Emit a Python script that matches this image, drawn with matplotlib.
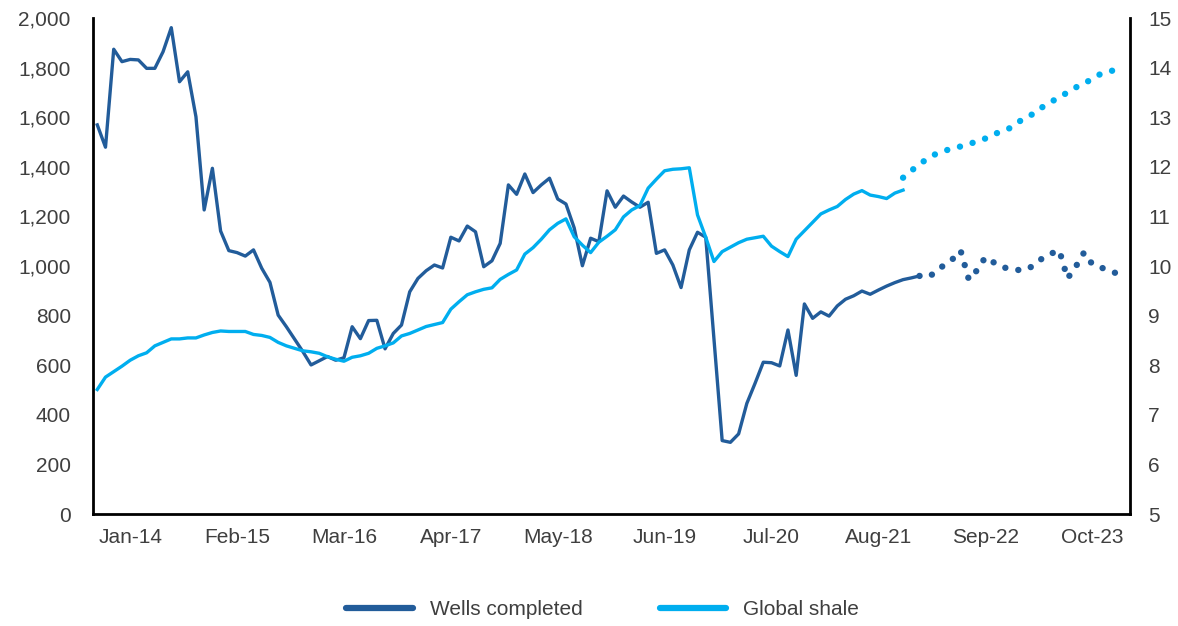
import numpy as np
import pandas as pd
import matplotlib
matplotlib.use('Agg')
import matplotlib.pyplot as plt
from matplotlib.lines import Line2D
from matplotlib.ticker import FuncFormatter, MultipleLocator

plt.rcParams['font.family'] = ['Liberation Sans', 'DejaVu Sans']

DARK = '#225C9A'
LIGHT = '#00AEEF'
TEXT = '#3F3F3F'

# monthly series, first month Sep-13
start_month = '2013-09-01'
tick_labels = ['Jan-14', 'Feb-15', 'Mar-16', 'Apr-17', 'May-18',
               'Jun-19', 'Jul-20', 'Aug-21', 'Sep-22', 'Oct-23']

# wells completed (left axis), actual then forecast
wells_actual = [1569, 1479, 1874, 1824, 1833, 1831, 1797, 1797, 1864, 1961,
                1743, 1783, 1602, 1226, 1394, 1141, 1062, 1054, 1040, 1065,
                991, 934, 802, 755, 705, 655, 601, 618, 635, 620,
                630, 755, 707, 780, 781, 666, 728, 762, 896, 950,
                981, 1004, 992, 1116, 1101, 1161, 1138, 997, 1021, 1091,
                1327, 1289, 1371, 1296, 1327, 1354, 1270, 1250, 1154, 1001,
                1112, 1098, 1303, 1237, 1282, 1258, 1237, 1257, 1051, 1065,
                1004, 913, 1065, 1136, 1116, 706, 296, 289, 323, 446,
                527, 612, 610, 597, 742, 559, 847, 789, 815, 798,
                839, 866, 880, 899, 886, 903, 919, 933, 945, 952,
                960]
wells_forecast = [960, 955, 975, 1005, 1027, 1062, 945, 983, 1035, 1015,
                  995, 990, 984, 985, 1005, 1033, 1050, 1063, 950, 997,
                  1054, 1008, 995, 982, 970]

# global shale (right axis), actual then forecast
shale_actual = [7.51, 7.76, 7.87, 7.98, 8.10, 8.19, 8.25, 8.39, 8.46, 8.53,
                8.53, 8.55, 8.55, 8.61, 8.66, 8.69, 8.68, 8.68, 8.68, 8.62,
                8.60, 8.56, 8.46, 8.39, 8.34, 8.29, 8.27, 8.24, 8.17, 8.12,
                8.08, 8.16, 8.19, 8.24, 8.34, 8.39, 8.45, 8.59, 8.64, 8.71,
                8.78, 8.82, 8.86, 9.13, 9.28, 9.42, 9.48, 9.53, 9.56, 9.73,
                9.83, 9.92, 10.24, 10.37, 10.54, 10.73, 10.86, 10.95, 10.59, 10.42,
                10.27, 10.48, 10.60, 10.73, 10.99, 11.13, 11.22, 11.57, 11.75, 11.92,
                11.95, 11.96, 11.98, 11.03, 10.58, 10.09, 10.29, 10.38, 10.47, 10.54,
                10.57, 10.60, 10.40, 10.29, 10.19, 10.54, 10.71, 10.88, 11.05, 11.13,
                11.20, 11.34, 11.45, 11.52, 11.43, 11.40, 11.36, 11.47, 11.53]
shale_forecast = [11.78, 11.92, 12.05, 12.17, 12.26, 12.32, 12.37, 12.41, 12.46, 12.51,
                  12.57, 12.65, 12.72, 12.78, 12.90, 13.00, 13.08, 13.21, 13.31, 13.40,
                  13.50, 13.60, 13.68, 13.77, 13.87, 13.92, 13.96]

n_months = len(wells_actual) + len(wells_forecast) - 1
months = pd.date_range(start_month, periods=n_months, freq='MS').strftime('%b-%y')
tick_pos = [list(months).index(t) for t in tick_labels]

x_wa = np.arange(len(wells_actual))
x_wf = np.arange(len(wells_forecast)) + len(wells_actual) - 1
x_sa = np.arange(len(shale_actual))
x_sf = np.arange(len(shale_forecast)) + len(shale_actual) - 1

fig = plt.figure(figsize=(11.78, 6.26), dpi=100)
ax = fig.add_axes([93 / 1178, 1 - 514 / 626, (1130 - 93) / 1178, (514 - 18) / 626])
ax2 = ax.twinx()

# round dots for the forecast part
dots = (0, (0.01, 2.05))
ax.plot(x_wa, wells_actual, color=DARK, lw=2.4)
ax.plot(x_wf, wells_forecast, color=DARK, lw=4.6, linestyle=dots, dash_capstyle='round')
ax2.plot(x_sa, shale_actual, color=LIGHT, lw=2.4)
ax2.plot(x_sf, shale_forecast, color=LIGHT, lw=4.6, linestyle=dots, dash_capstyle='round')

ax.set_xlim(-0.52, 125.6)
ax.set_ylim(0, 2000)
ax2.set_ylim(5, 15)
ax.yaxis.set_major_locator(MultipleLocator(200))
ax.yaxis.set_major_formatter(FuncFormatter(lambda v, p: f'{v:,.0f}'))
ax2.yaxis.set_major_locator(MultipleLocator(1))
ax.set_xticks(tick_pos, tick_labels)

for a in (ax, ax2):
    for s in a.spines.values():
        s.set_visible(False)
ax.spines['left'].set_visible(True)
ax.spines['bottom'].set_visible(True)
ax2.spines['right'].set_visible(True)
for s in (ax.spines['left'], ax.spines['bottom'], ax2.spines['right']):
    s.set_linewidth(2)
    s.set_color('black')

ax.tick_params(axis='y', length=0, pad=16, labelsize=15, labelcolor=TEXT)
ax.tick_params(axis='x', length=0, pad=10, labelsize=15, labelcolor=TEXT)
ax2.tick_params(axis='y', length=0, pad=13, labelsize=15, labelcolor=TEXT)

handles = [Line2D([], [], color=DARK, lw=4.5, solid_capstyle='round'),
           Line2D([], [], color=LIGHT, lw=4.5, solid_capstyle='round')]
fig.legend(handles, ['Wells completed', 'Global shale'], loc='center',
           bbox_to_anchor=(0.5115, 0.026), ncol=2, frameon=False, fontsize=15,
           labelcolor=TEXT, handlelength=3.2, handletextpad=0.8, columnspacing=3.7)

fig.savefig('out.png', dpi=100)
